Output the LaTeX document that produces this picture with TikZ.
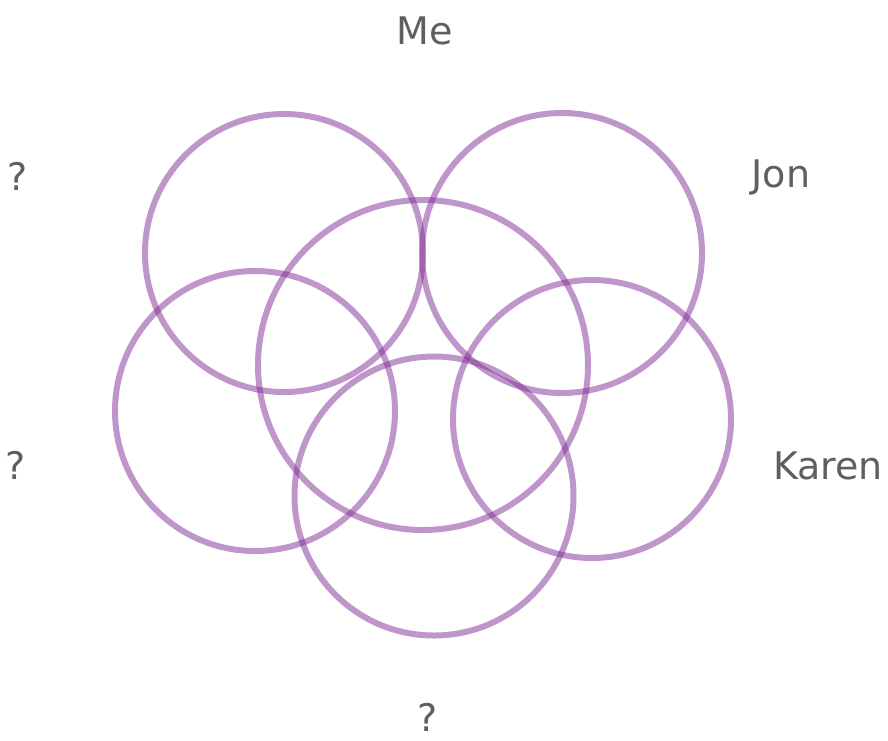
\documentclass[tikz,border=0pt]{standalone}
\usepackage{fontspec}
\setmainfont{DejaVu Sans}
\definecolor{ringc}{RGB}{128,45,150}
\definecolor{txtc}{RGB}{95,95,95}
\tikzset{
  ring/.style={draw=ringc, draw opacity=0.5, line width=6pt},
  lbl/.style={text=txtc, font=\fontsize{38}{44}\selectfont, inner sep=0pt}
}
\begin{document}
\begin{tikzpicture}[x=1pt,y=-1pt]
\useasboundingbox (0,0) rectangle (888,740);
\node[ring, circle, minimum size=278pt, inner sep=0pt] (c1) at (284,253) {};
\node[ring, circle, minimum size=280pt, inner sep=0pt] (c2) at (562,253) {};
\node[ring, circle, minimum size=330pt, inner sep=0pt] (c3) at (423,365) {};
\node[ring, circle, minimum size=280pt, inner sep=0pt] (c4) at (255,411) {};
\node[ring, circle, minimum size=278pt, inner sep=0pt] (c5) at (592,419) {};
\node[ring, circle, minimum size=279pt, inner sep=0pt] (c6) at (434,496) {};
\node[lbl] (me) at (425,31) {Me};
\node[lbl] (jon) at (781,177) {Jon};
\node[lbl] (karen) at (828,466) {Karen};
\node[lbl] (q1) at (18,176) {?};
\node[lbl] (q2) at (16,465) {?};
\node[lbl] (q3) at (428,717) {?};
\end{tikzpicture}
\end{document}
